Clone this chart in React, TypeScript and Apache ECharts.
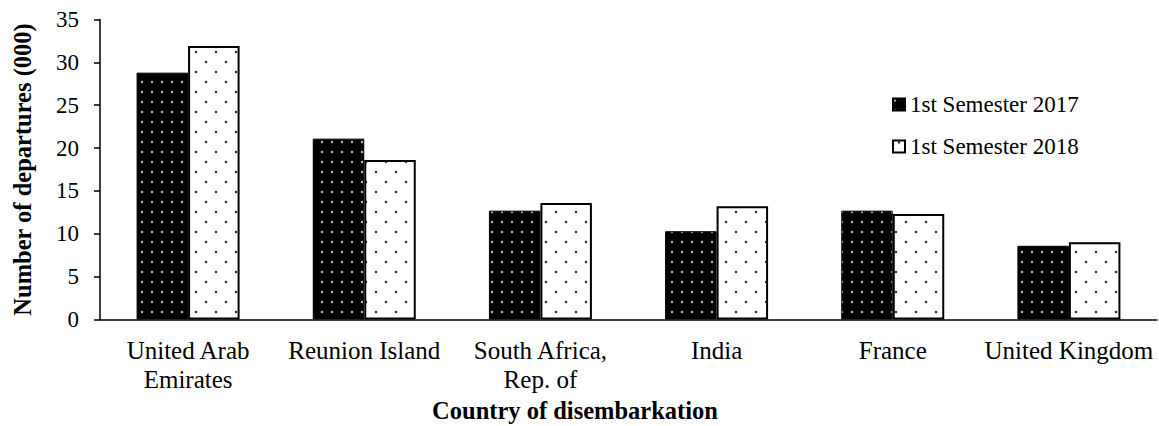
import React, { useEffect, useRef } from 'react';
import * as echarts from 'echarts';

const categories = [
  'United Arab\nEmirates',
  'Reunion Island',
  'South Africa,\nRep. of',
  'India',
  'France',
  'United Kingdom',
];
const seriesNames = ['1st Semester 2017', '1st Semester 2018'];
const values2017 = [28.8, 21.1, 12.7, 10.3, 12.7, 8.6];
const values2018 = [31.9, 18.6, 13.6, 13.2, 12.3, 9.0];
const yMin = 0;
const yMax = 35;
const yInterval = 5;

const FONT = 'Liberation Serif';

function makeTile(
  w: number,
  h: number,
  bg: string,
  dot: string,
  points: number[][],
  r: number
): string {
  const c = document.createElement('canvas');
  c.width = w;
  c.height = h;
  const ctx = c.getContext('2d') as CanvasRenderingContext2D;
  ctx.fillStyle = bg;
  ctx.fillRect(0, 0, w, h);
  ctx.fillStyle = dot;
  for (const p of points) {
    ctx.beginPath();
    ctx.arc(p[0], p[1], r, 0, Math.PI * 2);
    ctx.fill();
  }
  return c.toDataURL();
}

export default function App() {
  const ref = useRef<HTMLDivElement>(null);

  useEffect(() => {
    if (!ref.current) return;
    const chart = echarts.init(ref.current, undefined, { renderer: 'svg' });

    const blackTile = makeTile(10, 10, '#000000', '#b8b8b8', [[2, 2]], 1.2);
    const whiteTile = makeTile(20, 20, '#ffffff', '#333333', [[6, 2], [16, 12]], 1.25);

    const blackPattern: any = { image: blackTile, repeat: 'repeat', imageWidth: 10, imageHeight: 10 };
    const whitePattern: any = { image: whiteTile, repeat: 'repeat', imageWidth: 20, imageHeight: 20 };

    const option: any = {
      animation: false,
      backgroundColor: '#ffffff',
      textStyle: { fontFamily: FONT },
      grid: { left: 100, right: 2, top: 19.5, bottom: 106.5, outerBoundsMode: 'none' },
      legend: {
        orient: 'vertical',
        left: 887,
        top: 88,
        itemWidth: 12,
        itemHeight: 12,
        itemGap: 19,
        icon: 'rect',
        selectedMode: false,
        textStyle: { fontFamily: FONT, fontSize: 23, color: '#000' },
        data: seriesNames,
      },
      xAxis: {
        type: 'category',
        data: categories,
        axisLine: { lineStyle: { color: '#000', width: 1.5 } },
        axisTick: { show: false },
        axisLabel: {
          interval: 0,
          margin: 17,
          fontFamily: FONT,
          fontSize: 25,
          lineHeight: 28.4,
          color: '#000',
        },
        name: 'Country of disembarkation',
        nameLocation: 'middle',
        nameGap: 78,
        nameTextStyle: {
          fontFamily: FONT,
          fontSize: 24.5,
          fontWeight: 'bold',
          color: '#000',
          padding: [0, 107, 0, 0],
        },
      },
      yAxis: {
        type: 'value',
        min: yMin,
        max: yMax,
        interval: yInterval,
        axisLine: { show: true, lineStyle: { color: '#000', width: 1.5 } },
        axisTick: { show: true, length: 6, lineStyle: { color: '#000', width: 1.5 } },
        splitLine: { show: false },
        axisLabel: { margin: 21, fontFamily: FONT, fontSize: 23, color: '#000' },
        name: 'Number of departures (000)',
        nameLocation: 'middle',
        nameRotate: 90,
        nameGap: 65,
        nameTextStyle: { fontFamily: FONT, fontSize: 24.5, fontWeight: 'bold', color: '#000' },
      },
      series: [
        {
          name: seriesNames[0],
          type: 'bar',
          data: values2017,
          barWidth: 51.5,
          barGap: '0%',
          itemStyle: { color: blackPattern, borderColor: '#000', borderWidth: 1 },
          emphasis: { disabled: true },
        },
        {
          name: seriesNames[1],
          type: 'bar',
          data: values2018,
          barWidth: 51.5,
          barGap: '0%',
          itemStyle: { color: whitePattern, borderColor: '#000', borderWidth: 2 },
          emphasis: { disabled: true },
        },
      ],
    };

    chart.setOption(option);
    return () => chart.dispose();
  }, []);

  return (
    <div
      ref={ref}
      style={{ position: 'fixed', left: 0, top: 0, width: 1159, height: 426, background: '#fff' }}
    />
  );
}
